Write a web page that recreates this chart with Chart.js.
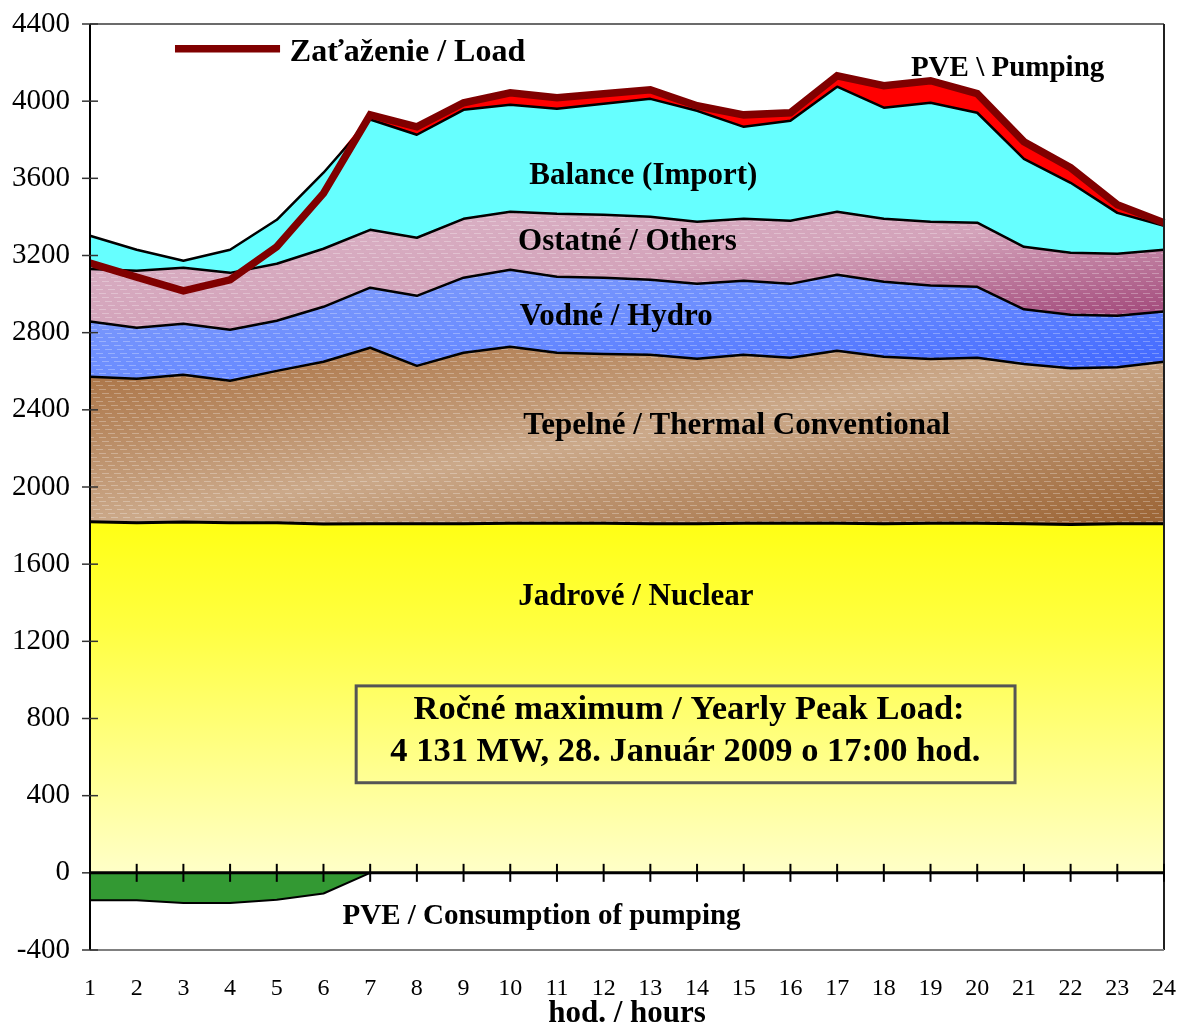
<!DOCTYPE html>
<html>
<head>
<meta charset="utf-8">
<script src="https://cdn.jsdelivr.net/npm/chart.js@4.4.1/dist/chart.umd.min.js"></script>
<style>
  html, body { margin: 0; background: #fff; }
  #wrap { width: 1182px; height: 1025px; position: relative; }
</style>
</head>
<body>
<div id="wrap"><canvas id="c"></canvas></div>
<script>
'use strict';

// hodiny / hours
const HOURS = ['1','2','3','4','5','6','7','8','9','10','11','12',
               '13','14','15','16','17','18','19','20','21','22','23','24'];
const Y_TICKS = [-400, 0, 400, 800, 1200, 1600, 2000, 2400, 2800, 3200, 3600, 4000, 4400];

// MW po zdrojoch (nestackovane)
const NUCLEAR  = [1820,1815,1818,1815,1815,1808,1810,1810,1810,1812,1812,1812,1810,1810,1812,1812,1812,1810,1812,1812,1810,1805,1810,1810];
const THERMAL  = [751,746,764,736,787,841,912,818,886,915,884,878,875,855,873,858,894,865,851,858,827,811,811,839];
const HYDRO    = [287,264,264,264,260,285,311,363,389,399,394,395,389,388,384,383,394,389,382,368,284,277,267,261];
const OTHERS   = [272,296,290,295,295,301,300,301,305,301,326,326,327,322,321,327,327,326,330,332,324,321,321,320];
const BALANCE  = [172,109,37,120,228,394,572,534,565,554,545,576,611,575,477,518,648,576,617,570,456,363,212,124];
const PUMP_GEN = [0,0,0,0,0,0,24,41,37,62,57,51,47,26,62,42,56,114,114,99,89,78,42,16];
const PUMP_USE = [-142,-142,-156,-156,-140,-107,0,0,0,0,0,0,0,0,0,0,0,0,0,0,0,0,0,0];
const LOAD     = [3160,3088,3017,3074,3245,3522,3929,3867,3992,4043,4018,4038,4059,3976,3929,3940,4131,4080,4106,4039,3790,3655,3463,3370];

const SERIF = '"Liberation Serif", "Times New Roman", serif';

// popisky v grafe (hodina, MW)
const NOTES = [
  { text: 'Balance (Import)',               hour: 12.85, mw: 3613, size: 31 },
  { text: 'Ostatné / Others',               hour: 12.51, mw: 3271, size: 31 },
  { text: 'Vodné / Hydro',                  hour: 12.27, mw: 2882, size: 31 },
  { text: 'Tepelné / Thermal Conventional', hour: 14.85, mw: 2317, size: 31 },
  { text: 'Jadrové / Nuclear',              hour: 12.69, mw: 1431, size: 31 },
  { text: 'PVE \\ Pumping',                 hour: 20.65, mw: 4168, size: 29 },
  { text: 'PVE / Consumption of pumping',   hour: 10.67, mw: -228, size: 29 },
  { text: 'Ročné maximum / Yearly Peak Load:',      hour: 13.83, mw: 845, size: 34.5 },
  { text: '4 131 MW, 28. Január 2009 o 17:00 hod.', hour: 13.75, mw: 627, size: 34.5 },
];
const PEAK_BOX = { h1: 6.70, h2: 20.81, top: 969, bottom: 467 };
const LEGEND = { h1: 2.82, h2: 5.07, mw: 4272, textHour: 5.28, textMw: 4251, text: 'Zaťaženie / Load' };

// Excel-like diagonalny gradient v ramci boxu oblasti
function diagGrad(chart, topMw, botMw, stops) {
  const { ctx, chartArea: a, scales } = chart;
  if (!a) return stops[1][1];
  const y1 = scales.y.getPixelForValue(topMw), y2 = scales.y.getPixelForValue(botMw);
  const W = a.right - a.left, H = y2 - y1, d = W * W + H * H;
  const g = ctx.createLinearGradient(a.left, y1, a.left + 2 * W * H * H / d, y1 + 2 * W * W * H / d);
  stops.forEach(([o, c]) => g.addColorStop(o, c));
  return g;
}
function vGrad(chart, topMw, botMw, stops) {
  const { ctx, chartArea: a, scales } = chart;
  if (!a) return stops[0][1];
  const g = ctx.createLinearGradient(0, scales.y.getPixelForValue(topMw), 0, scales.y.getPixelForValue(botMw));
  stops.forEach(([o, c]) => g.addColorStop(o, c));
  return g;
}

function area(label, data, bg, fill, bw, stack) {
  return {
    label, data, fill, stack: stack || 'gen', order: 1,
    backgroundColor: bg, borderColor: '#000', borderWidth: bw,
    pointRadius: 0, tension: 0, borderJoinStyle: 'round',
  };
}

// jemna textura (svetle ciarky)
function makeTexture() {
  const c = document.createElement('canvas');
  c.width = 12; c.height = 16;
  const g = c.getContext('2d');
  g.fillStyle = 'rgba(255,255,255,0.28)';
  for (let k = 0; k < 4; k++) {
    const x0 = k * 3, y0 = k * 4 + 1;
    g.fillRect(x0, y0, 7, 1);
    if (x0 + 7 > 12) g.fillRect(x0 - 12, y0, 7, 1);
  }
  return c;
}
const TEXTURED = [1, 2, 3];
let texture = null;

const texturePlugin = {
  id: 'texture',
  beforeDatasetDraw(chart, args) {
    if (!TEXTURED.includes(args.index)) return;
    const ctx = chart.ctx;
    if (!texture) texture = ctx.createPattern(makeTexture(), 'repeat');
    const up = args.meta.data, lo = chart.getDatasetMeta(args.index - 1).data;
    ctx.save();
    ctx.beginPath();
    up.forEach((p, i) => i ? ctx.lineTo(p.x, p.y) : ctx.moveTo(p.x, p.y));
    for (let i = lo.length - 1; i >= 0; i--) ctx.lineTo(lo[i].x, lo[i].y);
    ctx.closePath();
    ctx.clip();
    ctx.fillStyle = texture;
    const a = chart.chartArea;
    ctx.fillRect(a.left, a.top, a.right - a.left, a.bottom - a.top);
    ctx.restore();
  }
};

const framePlugin = {
  id: 'frame',
  afterDatasetsDraw(chart) {
    const { ctx, chartArea: a, scales: { x, y } } = chart;
    ctx.save();
    ctx.lineCap = 'butt';
    const seg = (x1, y1, x2, y2, c, w) => {
      ctx.strokeStyle = c; ctx.lineWidth = w;
      ctx.beginPath(); ctx.moveTo(x1, y1); ctx.lineTo(x2, y2); ctx.stroke();
    };
    seg(a.left, a.top, a.right, a.top, '#3a3a3a', 1.5);
    seg(a.right, a.top, a.right, a.bottom, '#202020', 2);
    seg(a.left, a.bottom, a.right, a.bottom, '#808080', 2);
    seg(a.left, a.top, a.left, a.bottom, '#000', 2);
    Y_TICKS.forEach(v => {
      const py = y.getPixelForValue(v);
      seg(a.left - 8, py, a.left + 8, py, '#333', 1.5);
    });
    const y0 = y.getPixelForValue(0);
    seg(a.left, y0, a.right, y0, '#000', 3);
    HOURS.forEach((h, i) => {
      const px = x.getPixelForValue(i);
      seg(px, y0 - 9, px, y0 + 9, '#000', 2);
    });
    ctx.restore();
  }
};

const notesPlugin = {
  id: 'notes',
  afterDatasetsDraw(chart) {
    const { ctx, scales: { x, y } } = chart;
    const px = h => x.getPixelForValue(h - 1);
    ctx.save();
    ctx.fillStyle = '#000';
    ctx.textBaseline = 'middle';
    ctx.textAlign = 'center';
    NOTES.forEach(n => {
      ctx.font = `bold ${n.size}px ${SERIF}`;
      ctx.fillText(n.text, px(n.hour), y.getPixelForValue(n.mw));
    });
    // box rocneho maxima
    ctx.strokeStyle = '#555';
    ctx.lineWidth = 3;
    const bx = px(PEAK_BOX.h1), by = y.getPixelForValue(PEAK_BOX.top);
    ctx.strokeRect(bx, by, px(PEAK_BOX.h2) - bx, y.getPixelForValue(PEAK_BOX.bottom) - by);
    // legenda
    const ly = y.getPixelForValue(LEGEND.mw);
    ctx.strokeStyle = '#800000';
    ctx.lineWidth = 7.5;
    ctx.beginPath(); ctx.moveTo(px(LEGEND.h1), ly); ctx.lineTo(px(LEGEND.h2), ly); ctx.stroke();
    ctx.textAlign = 'left';
    ctx.font = `bold 32px ${SERIF}`;
    ctx.fillText(LEGEND.text, px(LEGEND.textHour), y.getPixelForValue(LEGEND.textMw));
    ctx.restore();
  }
};

new Chart(document.getElementById('c'), {
  type: 'line',
  data: {
    labels: HOURS,
    datasets: [
      area('Jadrové / Nuclear', NUCLEAR,
        c => vGrad(c.chart, 1820, 0, [[0, '#ffff14'], [0.3, '#ffff40'], [1, '#ffffc8']]), 'origin', 3),
      area('Tepelné / Thermal Conventional', THERMAL,
        c => diagGrad(c.chart, 2730, 1800, [[0, '#a66c3c'], [0.5, '#cba98a'], [1, '#9a6232']]), '-1', 2.5),
      area('Vodné / Hydro', HYDRO,
        c => diagGrad(c.chart, 3130, 2550, [[0, '#86a0f8'], [0.5, '#6a8cff'], [1, '#3a62ff']]), '-1', 2.5),
      area('Ostatné / Others', OTHERS,
        c => diagGrad(c.chart, 3430, 2810, [[0, '#dcb6c8'], [0.5, '#d3a3ba'], [1, '#9a3a70']]), '-1', 2.5),
      area('Balance (Import)', BALANCE, '#66ffff', '-1', 2.5),
      area('PVE \\ Pumping', PUMP_GEN, '#ff0000', '-1', 0),
      area('PVE / Consumption of pumping', PUMP_USE, '#339933', 'origin', 2, 'neg'),
      {
        label: 'Zaťaženie / Load', data: LOAD, stack: 'load', order: 0, fill: false,
        borderColor: '#800000', borderWidth: 7.5, borderJoinStyle: 'miter',
        pointRadius: 0, tension: 0,
      },
    ]
  },
  options: {
    responsive: true,
    maintainAspectRatio: false,
    animation: false,
    layout: { padding: { top: 24, right: 18, left: 0, bottom: 0 } },
    plugins: { legend: { display: false }, tooltip: { enabled: false } },
    scales: {
      x: {
        grid: { display: true, drawOnChartArea: false, drawTicks: true, tickLength: 24, color: 'rgba(0,0,0,0)' },
        border: { display: false },
        ticks: { color: '#000', font: { family: SERIF, size: 24 }, padding: 0, maxRotation: 0, autoSkip: false },
        title: { display: true, text: 'hod. / hours', color: '#000',
                 font: { family: SERIF, size: 31, weight: 'bold', lineHeight: 1 }, padding: { top: 0, bottom: -4 } },
        afterFit: s => { s.height = 75; },
      },
      y: {
        stacked: true,
        min: -400, max: 4400,
        grid: { display: true, drawOnChartArea: false, drawTicks: true, tickLength: 20, color: 'rgba(0,0,0,0)' },
        border: { display: false },
        afterBuildTicks: s => { s.ticks = Y_TICKS.map(v => ({ value: v })); },
        ticks: { color: '#000', font: { family: SERIF, size: 29 }, padding: 0, callback: v => String(v) },
        afterFit: s => { s.width = 90; },
      }
    }
  },
  plugins: [texturePlugin, framePlugin, notesPlugin]
});
</script>
</body>
</html>
